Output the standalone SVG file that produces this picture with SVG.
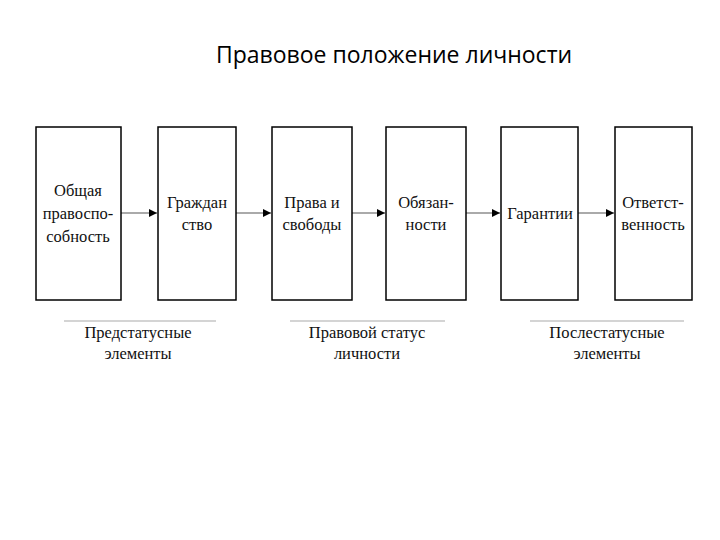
<svg xmlns="http://www.w3.org/2000/svg" width="720" height="540" viewBox="0 0 720 540">
<defs>
<style>
.b{fill:#fff;stroke:#000;stroke-width:1.5}
.t{font-family:"Liberation Serif","Times New Roman",serif;font-size:16.5px;text-anchor:middle;fill:#111}
.c{stroke:#aaa;stroke-width:2;fill:none}
.l{stroke:#aaa;stroke-width:1.2}
</style>
<marker id="a" viewBox="0 0 10 10" refX="10" refY="5" markerWidth="10" markerHeight="8" markerUnits="userSpaceOnUse" orient="auto"><path d="M0,0L10,5L0,10z" fill="#000"/></marker>
</defs>
<rect width="720" height="540" fill="#fff"/>
<text x="394" y="63" font-family="Open Sans,sans-serif" font-size="23" text-anchor="middle" fill="#000">Правовое положение личности</text>
<g id="connectors">
<path class="c" d="M121,213H157" marker-end="url(#a)"/>
<path class="c" d="M236,213H271" marker-end="url(#a)"/>
<path class="c" d="M352,213H385" marker-end="url(#a)"/>
<path class="c" d="M466,213H500" marker-end="url(#a)"/>
<path class="c" d="M578,213H614" marker-end="url(#a)"/>
</g>
<g id="n1"><rect class="b" x="36" y="127" width="85" height="173"/><text class="t" x="78" y="196">Общая</text><text class="t" x="78" y="219">правоспо-</text><text class="t" x="78" y="242">собность</text></g>
<g id="n2"><rect class="b" x="158" y="127" width="78" height="173"/><text class="t" x="197" y="208">Граждан</text><text class="t" x="197" y="230">ство</text></g>
<g id="n3"><rect class="b" x="272" y="127" width="80" height="173"/><text class="t" x="312" y="208">Права и</text><text class="t" x="312" y="230">свободы</text></g>
<g id="n4"><rect class="b" x="386" y="127" width="80" height="173"/><text class="t" x="426" y="208">Обязан-</text><text class="t" x="426" y="230">ности</text></g>
<g id="n5"><rect class="b" x="501" y="127" width="77" height="173"/><text class="t" x="540" y="219">Гарантии</text></g>
<g id="n6"><rect class="b" x="615" y="127" width="77" height="173"/><text class="t" x="653" y="208">Ответст-</text><text class="t" x="653" y="230">венность</text></g>
<g id="g1"><line class="l" x1="64" y1="321" x2="216" y2="321"/><text class="t" x="138" y="338">Предстатусные</text><text class="t" x="138" y="359">элементы</text></g>
<g id="g2"><line class="l" x1="290" y1="321" x2="445" y2="321"/><text class="t" x="367" y="338">Правовой статус</text><text class="t" x="367" y="359">личности</text></g>
<g id="g3"><line class="l" x1="530" y1="321" x2="684" y2="321"/><text class="t" x="607" y="338">Послестатусные</text><text class="t" x="607" y="359">элементы</text></g>
</svg>
